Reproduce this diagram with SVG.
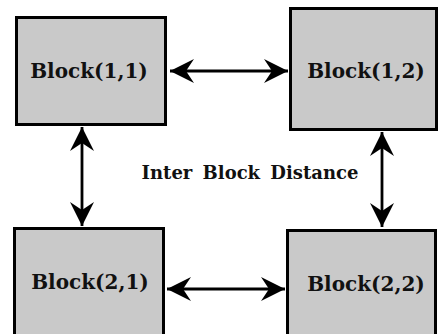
<svg xmlns="http://www.w3.org/2000/svg" width="439" height="334" viewBox="0 0 439 334">
<style>
.box{fill:#c9c9c9;stroke:#000;stroke-width:3}
.lbl{font-family:"DejaVu Serif","Liberation Serif",serif;font-weight:bold;font-size:20px;fill:#111;text-anchor:middle}
.mid{font-family:"DejaVu Serif","Liberation Serif",serif;font-weight:bold;font-size:18px;fill:#111;text-anchor:middle;word-spacing:4px}
.con{fill:none;stroke:#000;stroke-width:2.8;marker-start:url(#ah);marker-end:url(#ah)}
</style>
<defs>
<marker id="ah" viewBox="-26 -14 28 28" refX="0" refY="0" markerWidth="28" markerHeight="28" markerUnits="userSpaceOnUse" orient="auto-start-reverse">
<path d="M0,0 L-24,-12 L-16,0 L-24,12 Z" fill="#000"/>
</marker>
</defs>
<rect width="439" height="334" fill="#fff"/>
<g id="block11"><rect class="box" x="16.5" y="17.5" width="149" height="107"/><text class="lbl" x="89" y="78">Block(1,1)</text></g>
<g id="block12"><rect class="box" x="290.5" y="8.5" width="146" height="121"/><text class="lbl" x="366" y="78">Block(1,2)</text></g>
<g id="block21"><rect class="box" x="14.5" y="228.5" width="149" height="110"/><text class="lbl" x="90" y="289">Block(2,1)</text></g>
<g id="block22"><rect class="box" x="287.5" y="230.5" width="148" height="110"/><text class="lbl" x="366" y="291">Block(2,2)</text></g>
<g id="label"><text class="mid" x="250" y="179">Inter Block Distance</text></g>
<g id="connectors">
<path class="con" d="M170,71 H288"/>
<path class="con" d="M167,289 H285"/>
<path class="con" d="M82,127 V226"/>
<path class="con" d="M382,132 V227"/>
</g>
</svg>
